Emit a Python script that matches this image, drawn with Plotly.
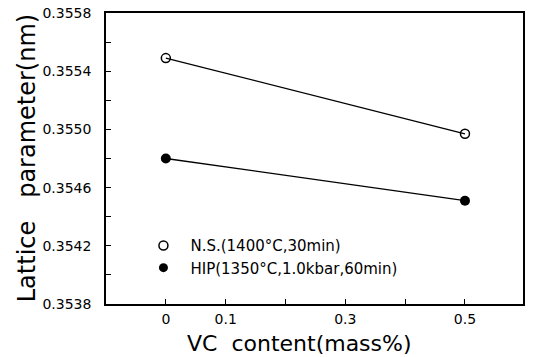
import plotly.graph_objects as go

vc = [0.0, 0.5]
ns_vals = [0.35549, 0.35497]
hip_vals = [0.35480, 0.35451]
ns_name = "N.S.(1400°C,30min)"
hip_name = "HIP(1350°C,1.0kbar,60min)"
x_tickvals = [0, 0.1, 0.2, 0.3, 0.4, 0.5]
x_ticktext = ["0", "0.1", "", "0.3", "", "0.5"]
y_tickvals = [0.3538, 0.3542, 0.3546, 0.3550, 0.3554, 0.3558]
y_ticktext = ["0.3538", "0.3542", "0.3546", "0.3550", "0.3554", "0.3558"]

font = "DejaVu Sans"

fig = go.Figure()
fig.add_trace(go.Scatter(
    x=vc, y=ns_vals, mode="lines+markers", name=ns_name, showlegend=False,
    line=dict(color="black", width=1.3),
    marker=dict(symbol="circle-open", size=9, color="black", line=dict(width=1.5)),
))
fig.add_trace(go.Scatter(
    x=vc, y=hip_vals, mode="lines+markers", name=hip_name, showlegend=False,
    line=dict(color="black", width=1.3),
    marker=dict(symbol="circle", size=10, color="black"),
))
# legend entries (markers only)
fig.add_trace(go.Scatter(
    x=[None], y=[None], mode="markers", name=ns_name, legend="legend",
    marker=dict(symbol="circle-open", size=9, color="black", line=dict(width=1.5)),
))
fig.add_trace(go.Scatter(
    x=[None], y=[None], mode="markers", name=hip_name, legend="legend2",
    marker=dict(symbol="circle", size=9, color="black"),
))

leg_common = dict(xanchor="left", yanchor="middle", bgcolor="rgba(0,0,0,0)",
                  font=dict(size=15, family=font), itemwidth=44)

fig.update_layout(
    width=534, height=357,
    margin=dict(l=106, r=11, t=13, b=53, autoexpand=False),
    paper_bgcolor="white", plot_bgcolor="white",
    font=dict(family=font, color="black"),
    showlegend=True,
    legend=dict(x=0.073, y=0.2, **leg_common),
    legend2=dict(x=0.073, y=0.124, **leg_common),
    xaxis=dict(
        range=[-0.1, 0.597], tickvals=x_tickvals, ticktext=x_ticktext,
        ticks="inside", ticklen=5, tickwidth=1, tickcolor="black",
        showline=True, linecolor="black", linewidth=1.5, mirror=True,
        showgrid=False, zeroline=False, automargin=False,
        tickfont=dict(size=14, family=font), ticklabelstandoff=1,
    ),
    yaxis=dict(
        range=[0.3538, 0.3558], tickvals=y_tickvals, ticktext=y_ticktext,
        ticks="inside", ticklen=5, tickwidth=1, tickcolor="black",
        minor=dict(dtick=0.0002, tick0=0.3538, ticks="inside", ticklen=5, tickcolor="black", showgrid=False),
        showline=True, linecolor="black", linewidth=1.5, mirror=True,
        showgrid=False, zeroline=False, automargin=False,
        tickfont=dict(size=14, family=font), ticklabelstandoff=10,
    ),
    annotations=[
        dict(text="Lattice\u00a0\u00a0\u00a0parameter(nm)", xref="paper", yref="paper",
             x=-0.19, y=0.5, xanchor="center", yanchor="middle", textangle=-90,
             showarrow=False, font=dict(size=24, family=font)),
        dict(text="VC\u00a0\u00a0content(mass%)", xref="paper", yref="paper",
             x=0.465, y=-0.1345, xanchor="center", yanchor="middle",
             showarrow=False, font=dict(size=22, family=font)),
    ],
)

fig.write_html("out.html", config={"displayModeBar": False},
               post_script="document.body.style.margin='0px';")
